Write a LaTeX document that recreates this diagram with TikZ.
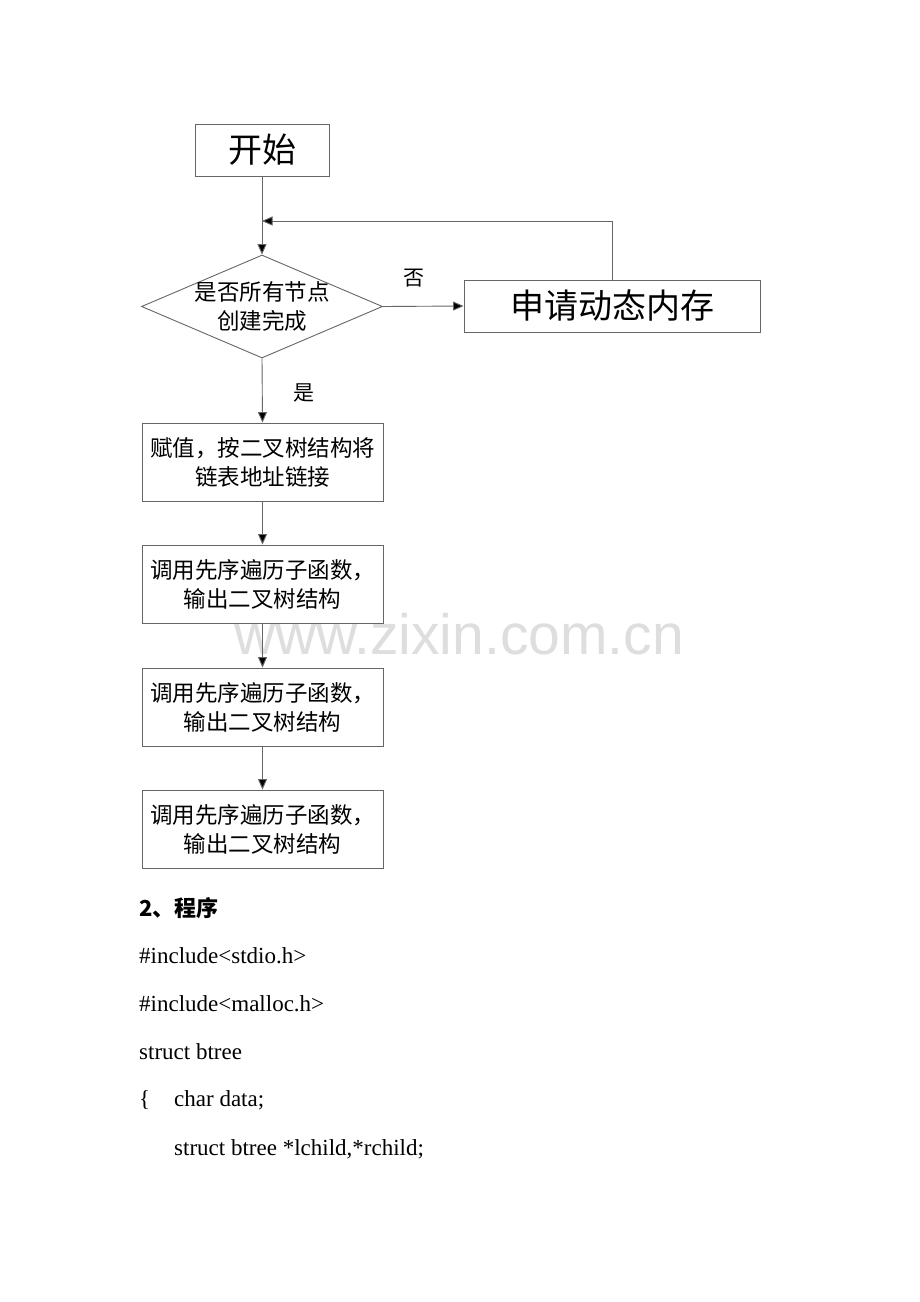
\documentclass[tikz,border=0pt]{standalone}
\usepackage{fontspec}
\setmainfont{Liberation Serif}
\newfontfamily\cjk{Noto Sans CJK SC}
\newfontfamily\wm{Liberation Sans}
\usetikzlibrary{shapes.geometric,arrows.meta}
\begin{document}
\begin{tikzpicture}[x=1pt,y=-1pt,
  line/.style={draw=black!60,line width=0.9pt},
  arr/.style={line,-{Triangle[length=10.5pt,width=9pt,fill=black]}},
  box/.style={rectangle,draw=black!60,line width=0.9pt,inner sep=0pt,align=center,font=\cjk\fontsize{22.5}{29}\selectfont},
  bigbox/.style={box,font=\cjk\fontsize{34}{38}\selectfont},
  lbl/.style={font=\cjk\fontsize{21}{24}\selectfont,inner sep=0pt},
  code/.style={anchor=west,inner sep=0pt,font=\fontsize{23}{26}\selectfont}]
\useasboundingbox[fill=white] (0,0) rectangle (920,1302);
% watermark
\node[font=\wm\fontsize{57}{60}\selectfont,text=black!13,inner sep=0pt] (wmark) at (459,634) {www.zixin.com.cn};
% flowchart
\node[bigbox,minimum width=134pt,minimum height=52pt] (start) at (262,150) {开始};
\node[diamond,draw=black!60,line width=0.9pt,inner sep=0pt,minimum width=241pt,minimum height=103pt,
  label={[align=center,font=\cjk\fontsize{22.5}{29}\selectfont]center:是否所有节点\\创建完成}] (dia) at (262,306.5) {};
\node[bigbox,minimum width=296pt,minimum height=52pt] (mem) at (612,306) {申请动态内存};
\node[box,minimum width=241pt,minimum height=78pt] (b1) at (262.5,462) {赋值，按二叉树结构将\\链表地址链接};
\node[box,minimum width=241pt,minimum height=78pt] (b2) at (262.5,584) {调用先序遍历子函数，\\输出二叉树结构};
\node[box,minimum width=241pt,minimum height=78pt] (b3) at (262.5,707) {调用先序遍历子函数，\\输出二叉树结构};
\node[box,minimum width=241pt,minimum height=78pt] (b4) at (262.5,829) {调用先序遍历子函数，\\输出二叉树结构};
\coordinate (join) at (262,221);
\node[lbl] (no) at (414,278) {否};
\node[lbl] (yes) at (304,393) {是};
\draw[arr] (start.south) -- (dia.north);
\draw[arr] (mem.north) |- (join);
\draw[arr] (dia.east) -- (mem.west);
\draw[arr] (dia.south) -- (b1.north);
\draw[arr] (b1) -- (b2);
\draw[arr] (b2) -- (b3);
\draw[arr] (b3) -- (b4);
% text
\node[code,font=\cjk\bfseries\fontsize{22}{24}\selectfont] (t0) at (139,908) {2、程序};
\node[code] (t1) at (139,956) {\#include<stdio.h>};
\node[code] (t2) at (139,1004) {\#include<malloc.h>};
\node[code] (t3) at (139,1052) {struct btree};
\node[code] (t4a) at (139,1100) {\{};
\node[code] (t4) at (174,1100) {char data;};
\node[code] (t5) at (174,1149) {struct btree *lchild,*rchild;};
\end{tikzpicture}
\end{document}
